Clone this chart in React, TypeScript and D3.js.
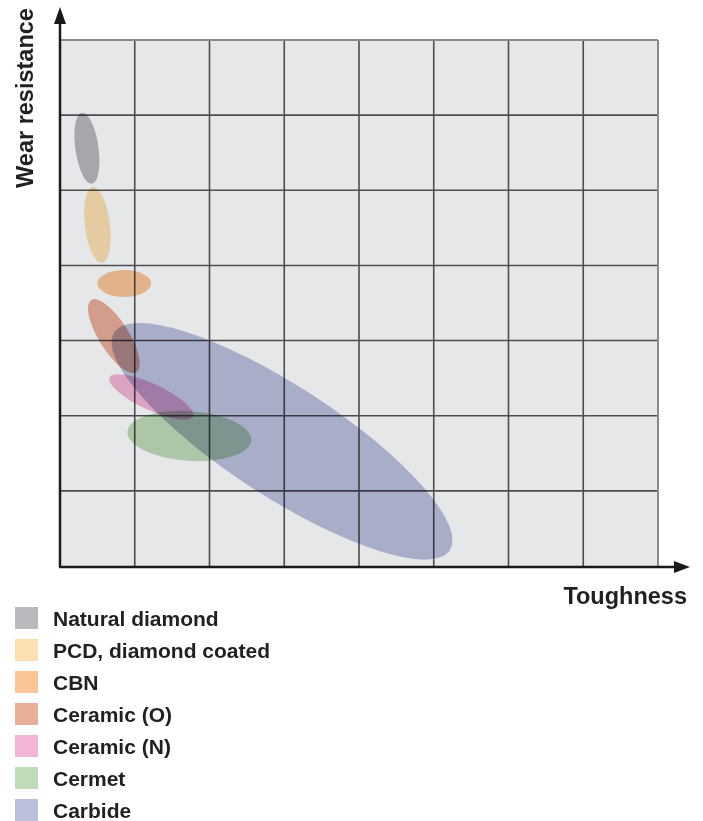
import React from "react";
import * as d3 from "d3";

// tool materials, legend order
const materials = [
  "Natural diamond",
  "PCD, diamond coated",
  "CBN",
  "Ceramic (O)",
  "Ceramic (N)",
  "Cermet",
  "Carbide",
];
const colors = ["#b8b9bc", "#fde0b0", "#fbc598", "#e9ae98", "#f3b5d6", "#bfdbb7", "#babfdb"];

// ellipse regions in chart units: centre, semi-axes, tilt (deg, counter-clockwise)
const centerX = [0.36, 0.5, 0.86, 0.72, 1.22, 1.73, 2.97];
const centerY = [5.56, 4.54, 3.76, 3.06, 2.25, 1.73, 1.66];
const semiA = [0.48, 0.51, 0.36, 0.57, 0.615, 0.83, 2.675];
const semiB = [0.155, 0.167, 0.18, 0.2, 0.175, 0.333, 0.74];
const tilt = [98, 97, 0, -58, -25, -4, -33];

const xCells = 8;
const yCells = 7;

const W = 703;
const H = 821;
const left = 60;
const right = 658;
const top = 40;
const bottom = 566;

const font = "'Liberation Sans', Arial, Helvetica, sans-serif";

const App = () => {
  const x = d3.scaleLinear().domain([0, xCells]).range([left, right]);
  const y = d3.scaleLinear().domain([0, yCells]).range([bottom, top]);
  const k = x(1) - x(0);

  const regions = materials.map((name, i) => ({
    name,
    color: colors[i],
    cx: centerX[i],
    cy: centerY[i],
    a: semiA[i],
    b: semiB[i],
    angle: tilt[i],
  }));

  return (
    <svg
      width={W}
      height={H}
      style={{ position: "absolute", left: 0, top: 0 }}
      fontFamily={font}
    >
      <rect x={left} y={top} width={right - left} height={bottom - top} fill="#e6e7e9" />
      {d3.range(1, xCells).map(v => (
        <line key={"gx" + v} x1={x(v)} x2={x(v)} y1={top} y2={bottom} stroke="#4d4d4f" strokeWidth={1.6} />
      ))}
      {d3.range(1, yCells).map(v => (
        <line key={"gy" + v} x1={left} x2={right} y1={y(v)} y2={y(v)} stroke="#4d4d4f" strokeWidth={1.6} />
      ))}
      <line x1={left} x2={right} y1={top} y2={top} stroke="#8a8b8d" strokeWidth={2} />
      <line x1={right} x2={right} y1={top} y2={bottom} stroke="#8a8b8d" strokeWidth={2} />

      {regions.slice().reverse().map(r => (
        <ellipse
          key={r.name}
          cx={0}
          cy={0}
          rx={r.a * k}
          ry={r.b * k}
          fill={r.color}
          style={{ mixBlendMode: "multiply" }}
          transform={`translate(${x(r.cx)},${y(r.cy)}) rotate(${-r.angle})`}
        />
      ))}

      {/* axes with arrows */}
      <line x1={left} x2={left} y1={bottom + 1} y2={20} stroke="#1a1a1a" strokeWidth={2.5} />
      <path d={`M${left},7 L${left - 6},24 L${left + 6},24 Z`} fill="#1a1a1a" />
      <line x1={left - 1} x2={678} y1={bottom + 1} y2={bottom + 1} stroke="#1a1a1a" strokeWidth={2.5} />
      <path d={`M690,${bottom + 1} L674,${bottom - 5} L674,${bottom + 7} Z`} fill="#1a1a1a" />

      <text
        transform={`translate(33,98) rotate(-90)`}
        textAnchor="middle"
        fontSize={23.5}
        fontWeight="bold"
        fill="#231f20"
      >
        Wear resistance
      </text>
      <text x={687} y={604} textAnchor="end" fontSize={23.5} fontWeight="bold" fill="#231f20">
        Toughness
      </text>

      {regions.map((r, i) => (
        <g key={"lg" + r.name} transform={`translate(15,${607 + i * 32})`}>
          <rect width={23} height={22} fill={r.color} />
          <text x={38} y={19} fontSize={21} fontWeight="bold" fill="#231f20">
            {r.name}
          </text>
        </g>
      ))}
    </svg>
  );
};

export default App;
